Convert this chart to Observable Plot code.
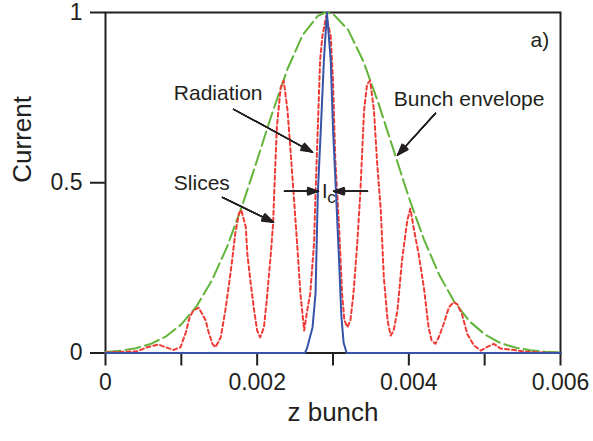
<!DOCTYPE html>
<html><head><meta charset="utf-8">
<script src="https://cdn.jsdelivr.net/npm/d3@7"></script>
<script src="https://cdn.jsdelivr.net/npm/@observablehq/plot@0.6"></script>
<style>body{margin:0;background:#fff}</style>
</head><body><div id="chart"></div>
<script>
// Bunch envelope (green dashed)
const envelopeZ = [0, 0.0002, 0.0004, 0.0006, 0.0008, 0.001, 0.0012, 0.0014, 0.0016, 0.0018, 0.002, 0.0022, 0.0024, 0.0026, 0.0028, 0.0029, 0.003, 0.0032, 0.0034, 0.0036, 0.0038, 0.004, 0.0042, 0.0044, 0.0046, 0.0048, 0.005, 0.0052, 0.0054, 0.0056, 0.0058, 0.006];
const envelopeI = [0.003, 0.007, 0.014, 0.027, 0.049, 0.084, 0.137, 0.212, 0.310, 0.431, 0.567, 0.706, 0.834, 0.934, 0.990, 1.0, 0.996, 0.949, 0.857, 0.733, 0.595, 0.457, 0.333, 0.230, 0.150, 0.093, 0.055, 0.030, 0.016, 0.008, 0.004, 0.002];

// Slices (red dotted)
const slicesZ = [0, 0.00002, 0.00042, 0.00055, 0.00070, 0.00079, 0.00090, 0.00099, 0.00106, 0.00111, 0.00116, 0.00123, 0.00132, 0.00136, 0.00141, 0.00145, 0.00152, 0.00158, 0.00163, 0.00167, 0.00171, 0.00176, 0.00179, 0.00185, 0.00187, 0.00191, 0.00196, 0.00200, 0.00204, 0.00209, 0.00213, 0.00218, 0.00221, 0.00223, 0.00226, 0.00231, 0.00235, 0.00240, 0.00244, 0.00248, 0.00253, 0.00257, 0.00262, 0.00266, 0.00270, 0.00275, 0.00277, 0.00280, 0.00283, 0.00286, 0.00291, 0.00297, 0.00300, 0.00303, 0.00308, 0.00312, 0.00315, 0.00319, 0.00323, 0.00327, 0.00332, 0.00336, 0.00339, 0.00341, 0.00345, 0.00349, 0.00354, 0.00358, 0.00363, 0.00367, 0.00372, 0.00376, 0.00380, 0.00385, 0.00391, 0.00398, 0.00402, 0.00407, 0.00413, 0.00420, 0.00426, 0.00430, 0.00435, 0.00440, 0.00446, 0.00453, 0.00459, 0.00464, 0.00470, 0.00477, 0.00486, 0.00495, 0.00502, 0.00512, 0.00521, 0.00534, 0.00554, 0.00580, 0.00600];
const slicesI = [0, 0.002, 0.005, 0.017, 0.025, 0.017, 0.009, 0.017, 0.061, 0.105, 0.125, 0.133, 0.096, 0.061, 0.027, 0.017, 0.046, 0.125, 0.204, 0.272, 0.35, 0.41, 0.42, 0.37, 0.292, 0.213, 0.125, 0.066, 0.046, 0.076, 0.164, 0.292, 0.38, 0.50, 0.664, 0.78, 0.80, 0.713, 0.595, 0.469, 0.311, 0.175, 0.066, 0.125, 0.175, 0.322, 0.47, 0.664, 0.86, 0.93, 0.99, 0.93, 0.80, 0.57, 0.37, 0.175, 0.096, 0.076, 0.096, 0.175, 0.322, 0.469, 0.616, 0.713, 0.79, 0.80, 0.713, 0.566, 0.419, 0.223, 0.096, 0.051, 0.066, 0.125, 0.272, 0.39, 0.424, 0.36, 0.29, 0.19, 0.076, 0.037, 0.027, 0.049, 0.086, 0.135, 0.149, 0.143, 0.115, 0.056, 0.022, 0.007, 0.016, 0.027, 0.013, 0.010, 0.004, 0.001, 0];

// Radiation (blue solid)
const radiationZ = [0, 0.00263, 0.00266, 0.00273, 0.00277, 0.00280, 0.00284, 0.00288, 0.00292, 0.00297, 0.00300, 0.00304, 0.00308, 0.00311, 0.00314, 0.00318, 0.006];
const radiationI = [0, 0, 0.016, 0.075, 0.175, 0.47, 0.66, 0.86, 1.0, 0.86, 0.66, 0.47, 0.27, 0.11, 0.03, 0, 0];

// Axes
const xTickValues = [0, 0.001, 0.002, 0.003, 0.004, 0.005, 0.006];
const xLabelValues = [0, 0.002, 0.004, 0.006];
const xLabelTexts = ["0", "0.002", "0.004", "0.006"];
const yTickValues = [0, 0.5, 1];
const yLabelTexts = ["0", "0.5", "1"];
const xTitle = "z bunch";
const yTitle = "Current";

// Annotations (data coordinates)
const noteTexts = ["Radiation", "Bunch envelope", "Slices", "a)"];
const noteZ = [0.000901, 0.003802, 0.000901, 0.005604];
const noteI = [0.762, 0.745, 0.4976, 0.919];
const arrowZ1 = [0.001688, 0.004352, 0.001543, 0.002360, 0.003455];
const arrowI1 = [0.716, 0.704, 0.457, 0.475, 0.475];
const arrowZ2 = [0.002730, 0.003851, 0.002215, 0.002809, 0.003007];
const arrowI2 = [0.5897, 0.581, 0.384, 0.475, 0.475];

const toRows = (Z, I) => Z.map((z, i) => ({z, v: I[i]}));
const envelope = toRows(envelopeZ, envelopeI);
const slices = toRows(slicesZ, slicesI);
const radiation = toRows(radiationZ, radiationI);
const notes = noteTexts.map((t, i) => ({t, z: noteZ[i], v: noteI[i]}));
const arrows = arrowZ1.map((z1, i) => ({z1, v1: arrowI1[i], z2: arrowZ2[i], v2: arrowI2[i]}));

const ink = "#231f20";
const arrowMarks = [8, 16, 24, 32, 40].map(a => Plot.arrow(arrows, {
  x1: "z1", y1: "v1", x2: "z2", y2: "v2",
  stroke: ink, strokeWidth: 1.3, headAngle: a, headLength: 13.8
}));

const chart = Plot.plot({
  width: 593,
  height: 441,
  marginLeft: 105,
  marginRight: 33,
  marginTop: 12,
  marginBottom: 88.5,
  style: {fontFamily: "'Liberation Sans', Arial, sans-serif", color: ink, background: "#fff"},
  x: {domain: [0, 0.006]},
  y: {domain: [0, 1]},
  marks: [
    Plot.axisX({ticks: xTickValues, tickSize: 13, tickFormat: () => "", label: null, strokeWidth: 2, stroke: ink}),
    Plot.axisX({ticks: xLabelValues, tickSize: 0, tickPadding: 20.5, tickFormat: d => xLabelTexts[xLabelValues.indexOf(d)], label: null, fontSize: 23, fill: ink}),
    Plot.axisY({ticks: yTickValues, tickSize: 15, tickPadding: 8, tickFormat: d => yLabelTexts[yTickValues.indexOf(d)], label: null, fontSize: 23, fill: ink, strokeWidth: 2, stroke: ink}),
    Plot.text([xTitle], {frameAnchor: "bottom", dy: 68, fontSize: 26, fill: ink}),
    Plot.text([yTitle], {frameAnchor: "left", dx: -83, rotate: -90, fontSize: 26, fill: ink}),
    Plot.frame({stroke: ink, strokeWidth: 2}),
    Plot.line(envelope, {x: "z", y: "v", stroke: "#62b43a", strokeWidth: 2, strokeDasharray: "15,5"}),
    Plot.line(slices, {x: "z", y: "v", stroke: "#ef3b36", strokeWidth: 2, strokeDasharray: "4,3"}),
    Plot.line(radiation, {x: "z", y: "v", stroke: "#3653a8", strokeWidth: 2}),
    Plot.text(notes, {x: "z", y: "v", text: "t", textAnchor: "start", fontSize: 21, fill: ink}),
    Plot.text(["I"], {x: [0.002855], y: [0.473], textAnchor: "start", fontSize: 20, fill: ink}),
    Plot.text(["c"], {x: [0.002923], y: [0.4565], textAnchor: "start", fontSize: 17, fill: ink}),
    ...arrowMarks
  ]
});
document.getElementById("chart").appendChild(chart);
</script>
</body></html>
